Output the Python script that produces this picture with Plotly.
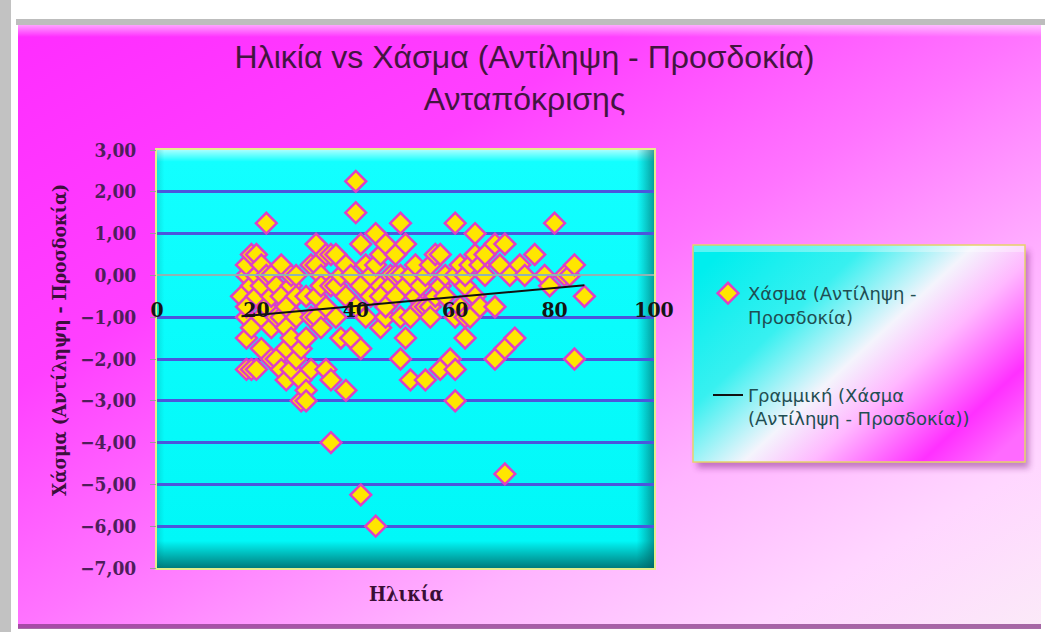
import base64
import numpy as np
import plotly.graph_objects as go

# ---- data: respondent age vs gap (perception - expectation), responsiveness ----
ages = [
    17, 18, 18, 18, 18, 18, 18, 19, 19, 19, 19, 20, 20, 20, 20, 21, 21, 21, 21, 22, 22, 22,
    23, 23, 23, 23, 24, 24, 24, 25, 25, 25, 25, 26, 26, 26, 26, 27, 27, 27, 27, 28, 28, 28, 28,
    29, 29, 29, 30, 30, 30, 30, 31, 31, 31, 32, 32, 32, 32, 33, 33, 33, 34, 34, 34,
    35, 35, 35, 35, 36, 36, 36, 37, 37, 38, 38, 38, 39, 39, 40, 40, 40, 41, 41, 41,
    41, 42, 42, 43, 43, 44, 44, 44, 45, 45, 45, 45, 46, 46, 46, 47, 47, 48, 48, 48,
    49, 49, 49, 49, 50, 50, 50, 51, 51, 51, 52, 52, 53, 53, 54, 54, 54, 55, 55, 55,
    56, 56, 57, 57, 57, 58, 58, 59, 60, 60, 60, 60, 60, 61, 61, 62, 62, 62, 62, 63,
    63, 64, 64, 64, 65, 65, 66, 66, 68, 68, 68, 69, 70, 70, 70, 71, 72, 73, 74, 76, 78, 79,
    80, 82, 83, 84, 84, 86,
]
gaps = [
    -0.50, 0.00, -1.00, -1.50, -2.25, -0.75, 0.25, -0.25, 0.50, -1.25, -2.25,
    0.50, -2.25, 0.00, -0.50, -0.25, -1.00, 0.25, -1.75, 1.25, 0.00, -0.75,
    -0.50, 0.00, -1.25, -2.00, -1.00, -0.25, -2.00, -0.50, -1.00, 0.25, -2.25,
    -1.75, -0.75, -1.25, -2.50, -0.25, 0.00, -2.25, -1.50, -2.00, -1.00, 0.00, -0.50,
    -3.00, -1.75, -2.50, -1.50, -2.75, -0.50, -3.00, 0.25, -1.00, -2.25, 0.75, 0.25, -1.00, -0.50,
    0.00, -1.25, -0.25, -2.25, -0.75, 0.50,
    -4.00, -2.50, 0.50, -0.25, 0.50, -0.25, -1.00, 0.00, -1.50, -2.75, 0.25, -0.50, -1.50, 0.00,
    2.25, 1.50, -0.75, 0.75, -1.75, -0.25,
    -5.25, 0.25, -1.00, -0.50, 0.00, 1.00, -6.00, 0.25, 0.50, -0.25, -1.25, -0.50, 0.75, -1.00,
    -0.75, 0.00, -0.25, 0.00, -0.50, 0.50,
    1.25, -2.00, 0.00, -1.00, 0.75, -1.50, -0.25, 0.00, -1.00, -2.50, -0.50, 0.25, -0.25, -0.75,
    0.00, -2.50, -0.75, -0.75, 0.25, -1.00,
    0.50, -0.50, 0.50, -2.25, -0.25, -0.50, 0.00, -2.00, 1.25, 0.00, -3.00, -2.25, -1.00, 0.25,
    -0.75, -0.25, -1.50, -1.00, 0.00, -1.00,
    0.25, 1.00, 0.50, -0.50, 0.25, -0.75, 0.00, 0.50, 0.75, -0.75, -2.00, 0.25, 0.75, -4.75, -1.75,
    0.00, -1.50, 0.25, 0.00, 0.50, 0.00, -0.25,
    1.25, 0.00, 0.00, 0.25, -2.00, -0.50,
]

x_ticks = [0, 20, 40, 60, 80, 100]
y_ticks = [3, 2, 1, 0, -1, -2, -3, -4, -5, -6, -7]

title_text = "Ηλικία vs Χάσμα (Αντίληψη - Προσδοκία)<br>Ανταπόκρισης"
x_title = "Ηλικία"
y_title = "Χάσμα (Αντίληψη - Προσδοκία)"
series_name = "Χάσμα (Αντίληψη -<br>Προσδοκία)"
trend_name = "Γραμμική (Χάσμα<br>(Αντίληψη - Προσδοκία))"

# ---- page geometry (pixels) ----
W, H = 1049, 632
PL, PR, PT, PB = 157, 654, 150, 568           # plot area
LGL, LGR, LGT, LGB = 693, 1025, 245, 462      # legend box
CL, CT, CR, CB = 18, 25, 1041, 628            # chart area

x_dom = [PL / W, PR / W]
y_dom = [1 - PB / H, 1 - PT / H]
y_min, y_max = -7, 3
x_axis_pos = y_dom[0] + (0 - y_min) / (y_max - y_min) * (y_dom[1] - y_dom[0])

# linear trend of the gap on age
slope, intercept = np.polyfit(ages, gaps, 1)
trend_x = [min(ages), max(ages)]
trend_y = [intercept + slope * v for v in trend_x]

# chart fill runs corner to corner, with equal tone at the off-diagonal corners
cw, ch = CR - CL, CB - CT
k = (2 * cw * ch) / (ch * ch + cw * cw)
gx2, gy2 = CL + ch * k, CT + cw * k

# ---- decorative backdrop: frame, chart fill, bevelled plot area, legend box ----
svg = f"""<svg xmlns="http://www.w3.org/2000/svg" width="{W}" height="{H}" viewBox="0 0 {W} {H}">
<defs>
 <linearGradient id="chart" gradientUnits="userSpaceOnUse" x1="{CL}" y1="{CT}" x2="{gx2:.1f}" y2="{gy2:.1f}">
  <stop offset="0" stop-color="#FF2CFF"/>
  <stop offset="0.30" stop-color="#FF40FF"/>
  <stop offset="0.50" stop-color="#FF74FF"/>
  <stop offset="0.70" stop-color="#FFB4FF"/>
  <stop offset="0.86" stop-color="#FFD6FF"/>
  <stop offset="1" stop-color="#FBEAF8"/>
 </linearGradient>
 <linearGradient id="topband" x1="0" y1="0" x2="0" y2="1">
  <stop offset="0" stop-color="#FFFFFF" stop-opacity="0.55"/>
  <stop offset="1" stop-color="#FFFFFF" stop-opacity="0"/>
 </linearGradient>
 <linearGradient id="plotv" x1="0" y1="0" x2="0" y2="1">
  <stop offset="0" stop-color="#A8FFFF"/>
  <stop offset="0.028" stop-color="#12FFFF"/>
  <stop offset="0.935" stop-color="#00F8F8"/>
  <stop offset="0.972" stop-color="#00B0B0"/>
  <stop offset="1" stop-color="#007C7C"/>
 </linearGradient>
 <linearGradient id="ploth" x1="0" y1="0" x2="1" y2="0">
  <stop offset="0" stop-color="#006A6A" stop-opacity="0.18"/>
  <stop offset="0.015" stop-color="#006A6A" stop-opacity="0"/>
  <stop offset="0.965" stop-color="#006A6A" stop-opacity="0"/>
  <stop offset="1" stop-color="#005C5C" stop-opacity="0.6"/>
 </linearGradient>
 <linearGradient id="leg" x1="0" y1="0.15" x2="1" y2="0.85">
  <stop offset="0" stop-color="#00EEEE"/>
  <stop offset="0.28" stop-color="#38F0F0"/>
  <stop offset="0.50" stop-color="#F4F4FC"/>
  <stop offset="0.64" stop-color="#FFB8FF"/>
  <stop offset="0.86" stop-color="#FF30FF"/>
  <stop offset="1" stop-color="#FF6AFF"/>
 </linearGradient>
 <filter id="blur" x="-10%" y="-10%" width="120%" height="120%">
  <feGaussianBlur stdDeviation="3"/>
 </filter>
</defs>
<rect x="0" y="0" width="{W}" height="{H}" fill="#FFFFFF"/>
<rect x="0" y="0" width="11" height="{H}" fill="#C2C2C2"/>
<rect x="16" y="19" width="{W - 20}" height="6" fill="#BDBDBD"/>
<rect x="{CL}" y="{CT}" width="{cw}" height="{ch}" fill="url(#chart)"/>
<rect x="{CL}" y="{CT}" width="{cw}" height="12" fill="url(#topband)"/>
<rect x="{CL}" y="{CB - 4}" width="{cw}" height="5" fill="#8A3C8A" opacity="0.75"/>
<rect x="{PL - 2}" y="{PT - 2}" width="{PR - PL + 4}" height="{PB - PT + 4}" fill="#E4EE8C"/>
<rect x="{PL}" y="{PT}" width="{PR - PL}" height="{PB - PT}" fill="url(#plotv)"/>
<rect x="{PL}" y="{PT}" width="{PR - PL}" height="{PB - PT}" fill="url(#ploth)"/>
<rect x="{LGL + 4}" y="{LGT + 6}" width="{LGR - LGL}" height="{LGB - LGT}" fill="#7A1E7A" opacity="0.45" filter="url(#blur)"/>
<rect x="{LGL}" y="{LGT}" width="{LGR - LGL}" height="{LGB - LGT}" fill="url(#leg)" stroke="#E6D36A" stroke-width="1.5"/>
<rect x="{LGL + 1}" y="{LGT + 1}" width="{LGR - LGL - 2}" height="6" fill="#FFFFFF" opacity="0.35"/>
</svg>"""
backdrop = "data:image/svg+xml;base64," + base64.b64encode(svg.encode("utf-8")).decode("ascii")

serif_bold = "DejaVu Serif Condensed, DejaVu Serif, serif"

fig = go.Figure()

fig.add_trace(go.Scatter(
    x=ages, y=gaps, mode="markers", name=series_name, legendgroup="a",
    marker=dict(symbol="diamond", size=16, color="#FFE600",
                line=dict(color="#DE40C4", width=2.5)),
))
fig.add_trace(go.Scatter(
    x=trend_x, y=trend_y, mode="lines", name=trend_name, legendgroup="b",
    line=dict(color="#111111", width=2),
))

fig.update_layout(
    template="none",
    width=W, height=H,
    margin=dict(l=0, r=0, t=0, b=0),
    paper_bgcolor="#FFFFFF",
    plot_bgcolor="rgba(0,0,0,0)",
    separators=",.",
    images=[dict(source=backdrop, xref="paper", yref="paper", x=0, y=1,
                 sizex=1, sizey=1, xanchor="left", yanchor="top",
                 sizing="stretch", layer="below")],
    title=dict(text=title_text, x=0.5, xanchor="center", y=1 - 68 / H, yanchor="top",
               font=dict(family="Liberation Sans, Arial, sans-serif", size=32, color="#431540")),
    xaxis=dict(range=[0, 100], domain=x_dom, anchor="free", position=x_axis_pos,
               tickvals=x_ticks, showgrid=False, zeroline=False,
               showline=True, linecolor="#8FB3B3", linewidth=1.5,
               ticks="", ticklabelstandoff=16,
               tickfont=dict(family=serif_bold, size=21, color="#141414", weight="bold")),
    yaxis=dict(range=[y_min, y_max], domain=y_dom, tickvals=y_ticks, tickformat=".2f",
               showgrid=True, gridcolor="#4B56DC", gridwidth=3,
               zeroline=True, zerolinecolor="#8FB3B3", zerolinewidth=1.5,
               showline=False, ticks="outside", ticklen=6, tickcolor="#9A9A9A",
               ticklabelstandoff=10,
               tickfont=dict(family=serif_bold, size=19, color="#4E1E5A", weight="bold")),
    legend=dict(x=708 / W, y=1 - 275 / H, xanchor="left", yanchor="top",
                bgcolor="rgba(0,0,0,0)", borderwidth=0, valign="top",
                traceorder="grouped", tracegroupgap=52,
                font=dict(family="DejaVu Sans, Open Sans, sans-serif", size=18, color="#1F4E52")),
    annotations=[
        dict(text=y_title, textangle=-90, x=59 / W, y=1 - 340 / H, xref="paper", yref="paper",
             showarrow=False, xanchor="center", yanchor="middle",
             font=dict(family=serif_bold, size=19, color="#3C0F3C", weight="bold")),
        dict(text=x_title, x=406 / W, y=1 - 594 / H, xref="paper", yref="paper",
             showarrow=False, xanchor="center", yanchor="middle",
             font=dict(family=serif_bold, size=20, color="#3A0F36", weight="bold")),
    ],
)

fig.write_html("out.html")
